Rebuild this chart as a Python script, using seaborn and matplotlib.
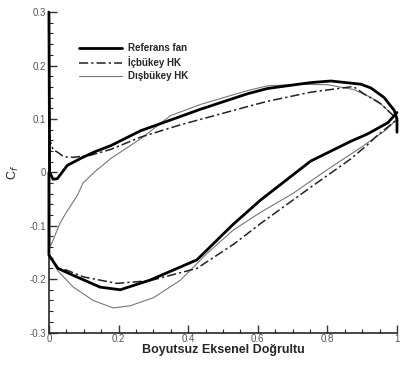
import numpy as np
import pandas as pd
import matplotlib
matplotlib.use("Agg")
import matplotlib.pyplot as plt
import seaborn as sns
from matplotlib.ticker import MultipleLocator, FixedLocator

# --- data ---
ref_up_x = [0, 0.002, 0.012, 0.024, 0.053, 0.091, 0.13, 0.178, 0.264, 0.32, 0.435, 0.57, 0.628, 0.752, 0.81, 0.896, 0.925, 0.963, 0.992, 1.0, 1.0]
ref_up_y = [0.3, 0.0, -0.013, -0.012, 0.013, 0.026, 0.038, 0.05, 0.078, 0.091, 0.118, 0.147, 0.157, 0.168, 0.171, 0.165, 0.158, 0.14, 0.116, 0.1, 0.075]
ref_lo_x = [0, 0, 0.026, 0.07, 0.147, 0.205, 0.233, 0.29, 0.425, 0.53, 0.608, 0.675, 0.752, 0.867, 0.916, 0.974, 1.0]
ref_lo_y = [0.0, -0.155, -0.18, -0.193, -0.215, -0.22, -0.214, -0.202, -0.164, -0.097, -0.052, -0.018, 0.021, 0.058, 0.072, 0.093, 0.112]

icb_up_x = [0, 0.003, 0.012, 0.024, 0.043, 0.07, 0.12, 0.178, 0.264, 0.378, 0.435, 0.57, 0.628, 0.752, 0.867, 0.876, 0.905, 0.954, 0.988, 1.0]
icb_up_y = [0.3, 0.06, 0.042, 0.038, 0.029, 0.028, 0.032, 0.043, 0.066, 0.089, 0.099, 0.123, 0.133, 0.15, 0.16, 0.16, 0.147, 0.128, 0.107, 0.097]
icb_lo_x = [0, 0, 0.026, 0.05, 0.1, 0.195, 0.29, 0.425, 0.53, 0.608, 0.752, 0.867, 0.916, 0.945, 0.997]
icb_lo_y = [0.0, -0.155, -0.18, -0.183, -0.196, -0.208, -0.203, -0.18, -0.135, -0.096, -0.028, 0.025, 0.052, 0.07, 0.097]

dis_up_x = [0, 0.003, 0.01, 0.032, 0.05, 0.082, 0.098, 0.13, 0.178, 0.264, 0.349, 0.435, 0.57, 0.628, 0.723, 0.8, 0.876, 0.916, 0.945, 0.983, 1.0]
dis_up_y = [0.3, -0.14, -0.13, -0.095, -0.075, -0.043, -0.02, 0.0, 0.026, 0.063, 0.106, 0.127, 0.153, 0.162, 0.165, 0.164, 0.155, 0.143, 0.133, 0.11, 0.1]
dis_lo_x = [0, 0.026, 0.07, 0.127, 0.185, 0.233, 0.30, 0.378, 0.454, 0.53, 0.608, 0.7, 0.8, 0.9, 0.97, 1.0]
dis_lo_y = [-0.155, -0.185, -0.215, -0.24, -0.254, -0.25, -0.235, -0.202, -0.152, -0.108, -0.075, -0.04, 0.005, 0.048, 0.08, 0.1]

labels = ["Referans fan", "İçbükey HK", "Dışbükey HK"]
xticks = [0, 0.2, 0.4, 0.6, 0.8, 1]
xtick_labels = ["0", "0.2", "0.4", "0.6", "0.8", "1"]
yticks = [-0.3, -0.2, -0.1, 0, 0.1, 0.2, 0.3]
ytick_labels = ["-0.3", "-0.2", "-0.1", "0", "0.1", "0.2", "0.3"]

sns.set_style("ticks")
plt.rcParams["font.family"] = ["Liberation Sans", "DejaVu Sans"]

fig = plt.figure(figsize=(4.01, 3.67), dpi=100)
ax = fig.add_axes([0.122, 0.094, 0.868, 0.873])

styles = [
    dict(color="black", linewidth=2.0, linestyle="-"),
    dict(color="#222222", linewidth=1.1, linestyle=(0, (6, 2, 1.5, 2))),
    dict(color="#777777", linewidth=0.8, linestyle="-"),
]
series = [
    (ref_up_x, ref_up_y, ref_lo_x, ref_lo_y),
    (icb_up_x, icb_up_y, icb_lo_x, icb_lo_y),
    (dis_up_x, dis_up_y, dis_lo_x, dis_lo_y),
]
order = [2, 1, 0]
handles = [None] * 3
for i in order:
    ux, uy, lx, ly = series[i]
    for j, (xs, ys) in enumerate([(ux, uy), (lx, ly)]):
        df = pd.DataFrame({"x": xs, "y": ys})
        sns.lineplot(data=df, x="x", y="y", sort=False, estimator=None, ax=ax,
                     label=labels[i] if j == 0 else None, legend=False,
                     zorder=3 + (2 - i), clip_on=False, **styles[i])
    handles[i] = ax.lines[-2]

ax.set_xlim(0, 1)
ax.set_ylim(-0.3, 0.3)
ax.xaxis.set_major_locator(FixedLocator(xticks))
ax.set_xticklabels(xtick_labels)
ax.yaxis.set_major_locator(FixedLocator(yticks))
ax.set_yticklabels(ytick_labels)
ax.xaxis.set_minor_locator(MultipleLocator(0.05))
ax.yaxis.set_minor_locator(MultipleLocator(0.02))
ax.tick_params(which="major", direction="in", length=6, width=1, labelsize=7, colors="#333333", pad=2)
ax.tick_params(which="minor", direction="in", length=3, width=0.8)
ax.tick_params(axis="x", pad=1)
for lab in ax.get_xticklabels() + ax.get_yticklabels():
    lab.set_color("#555555")
sns.despine(ax=ax, top=True, right=True)
ax.spines["left"].set_linewidth(1.2)
ax.spines["bottom"].set_linewidth(1.2)

ax.set_xlabel("Boyutsuz Eksenel Doğrultu", fontsize=9, fontweight="bold", labelpad=0)
ax.set_ylabel("C$_f$", fontsize=9, labelpad=6)

leg = ax.legend(handles=handles, labels=labels, loc="upper left",
                bbox_to_anchor=(0.06, 0.93), frameon=False, handlelength=4.5,
                handletextpad=0.6, labelspacing=0.3, prop={"size": 7, "weight": "bold"})

fig.savefig("out.png", dpi=100)
